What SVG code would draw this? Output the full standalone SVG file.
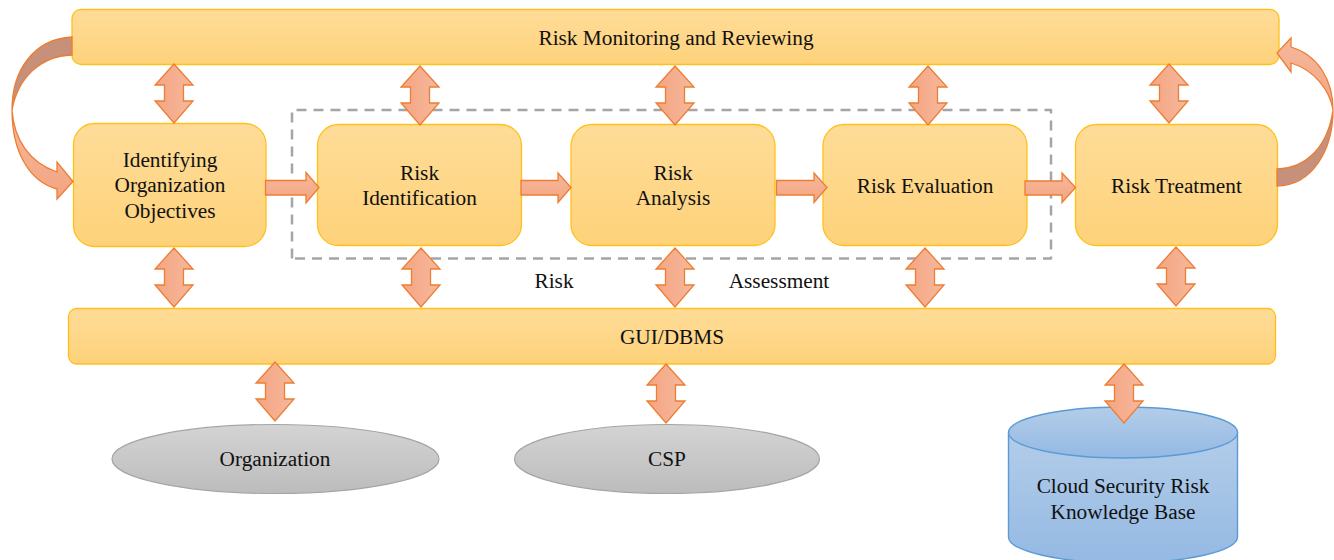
<svg xmlns="http://www.w3.org/2000/svg" width="1334" height="560" viewBox="0 0 1334 560">
<defs>
<linearGradient id="gy" x1="0" y1="0" x2="0" y2="1"><stop offset="0" stop-color="#fedc98"/><stop offset="1" stop-color="#fed27a"/></linearGradient>
<linearGradient id="ga" x1="0" y1="0" x2="1" y2="0"><stop offset="0" stop-color="#f4a582"/><stop offset="1" stop-color="#f6b89c"/></linearGradient>
<linearGradient id="gh" x1="0" y1="0" x2="0" y2="1"><stop offset="0" stop-color="#f6b89c"/><stop offset="1" stop-color="#f3a581"/></linearGradient>
<linearGradient id="gg" x1="0" y1="0" x2="0" y2="1"><stop offset="0" stop-color="#d4d4d4"/><stop offset="1" stop-color="#bcbcbc"/></linearGradient>
<linearGradient id="gb" x1="0" y1="0" x2="0" y2="1"><stop offset="0" stop-color="#b3cde9"/><stop offset="1" stop-color="#94b9e3"/></linearGradient>
<path id="dbl" d="M0 0L19 21H9.500V37H19L0 59L-19 37H-9.500V21H-19Z"/>
</defs>
<style>
.box{fill:url(#gy);stroke:#ffc119;stroke-width:1.300}
.dbl{fill:url(#ga);stroke:#ed7d31;stroke-width:1.300;stroke-linejoin:miter}
.h{fill:url(#gh);stroke:#ed7d31;stroke-width:1.300}
.dark{fill:#c6907a;stroke:#ed7d31;stroke-width:1.300}
.ell{fill:url(#gg);stroke:#a5a5a5;stroke-width:1.200}
.db{fill:url(#gb);stroke:#5b9bd5;stroke-width:1.400}
text{font-family:"Liberation Serif","Times New Roman",serif;font-size:21.300px;fill:#111;text-anchor:middle}
</style>
<rect width="1334" height="560" fill="#fff"/>
<path d="M292 258.500V110H1051V258.500Z" fill="none" stroke="#a5a5a5" stroke-width="2.500" stroke-dasharray="10 7" stroke-linejoin="round"/>
<g id="monitoring"><rect class="box" x="72" y="9.500" width="1207" height="55" rx="9"/><text x="676" y="45">Risk Monitoring and Reviewing</text></g>
<g id="objectives"><rect class="box" x="73.500" y="123.500" width="192.500" height="123" rx="21"/><text x="170" y="167">Identifying</text><text x="170" y="192">Organization</text><text x="170" y="218">Objectives</text></g>
<g id="identification"><rect class="box" x="317.500" y="124.500" width="204" height="121" rx="21"/><text x="419.500" y="180">Risk</text><text x="419.500" y="205">Identification</text></g>
<g id="analysis"><rect class="box" x="571" y="124.500" width="204" height="121" rx="21"/><text x="673" y="180">Risk</text><text x="673" y="205">Analysis</text></g>
<g id="evaluation"><rect class="box" x="823" y="124.500" width="204" height="121" rx="21"/><text x="925" y="193">Risk Evaluation</text></g>
<g id="treatment"><rect class="box" x="1075.500" y="124.500" width="202" height="121" rx="21"/><text x="1176.500" y="193">Risk Treatment</text></g>
<text x="554" y="288">Risk</text>
<text x="779" y="288">Assessment</text>
<g id="gui"><rect class="box" x="68.500" y="308.500" width="1207" height="55.500" rx="8"/><text x="672" y="344">GUI/DBMS</text></g>
<g id="organization"><ellipse class="ell" cx="275.500" cy="459" rx="163.500" ry="34.500"/><text x="275" y="466">Organization</text></g>
<g id="csp"><ellipse class="ell" cx="667" cy="459" rx="152.500" ry="34.500"/><text x="667" y="466">CSP</text></g>
<g id="kb"><path class="db" d="M1008.500 432.500V537C1008.500 551 1060 563 1123 563C1186 563 1237.500 551 1237.500 537V432.500"/><ellipse class="db" cx="1123" cy="432.500" rx="114.500" ry="25.500"/><text x="1123" y="493">Cloud Security Risk</text><text x="1123" y="519">Knowledge Base</text></g>
<g id="connectors">
<path class="dark" d="M72 37C34 39 12 70 12 110C18 78 40 56 72 55Z"/>
<path class="h" d="M12 110C12 150 28 181 57 189V199L73 181.500L57 162V172C30 163 14 140 12 110Z"/>
<path class="dark" d="M1277 186C1312 186 1333 150 1333 110C1328 145 1308 168 1277 169Z"/>
<path class="h" d="M1333 110C1333 80 1318 55 1291 47V38L1277 53L1291 72V63C1314 70 1330 90 1333 110Z"/>
<path class="h" d="M265.500 180.500H306V172.500L319 187.500L306 203V195H265.500Z"/>
<path class="h" d="M521 180.500H558V173L571 187.500L558 202.500V195H521Z"/>
<path class="h" d="M776.500 180.500H814V173L827 187.500L814 202.500V195H776.500Z"/>
<path class="h" d="M1025 181H1062V173L1075.500 187.500L1062 202.500V195H1025Z"/>
<use href="#dbl" class="dbl" x="174" y="64"/>
<use href="#dbl" class="dbl" x="420" y="66"/>
<use href="#dbl" class="dbl" x="675" y="66"/>
<use href="#dbl" class="dbl" x="928" y="66"/>
<use href="#dbl" class="dbl" x="1169" y="64"/>
<use href="#dbl" class="dbl" x="174" y="248"/>
<use href="#dbl" class="dbl" x="421" y="248"/>
<use href="#dbl" class="dbl" x="675" y="248"/>
<use href="#dbl" class="dbl" x="925" y="248"/>
<use href="#dbl" class="dbl" x="1176" y="247"/>
<use href="#dbl" class="dbl" x="275" y="362"/>
<use href="#dbl" class="dbl" x="666" y="364"/>
<use href="#dbl" class="dbl" x="1124" y="364"/>
</g>
</svg>
